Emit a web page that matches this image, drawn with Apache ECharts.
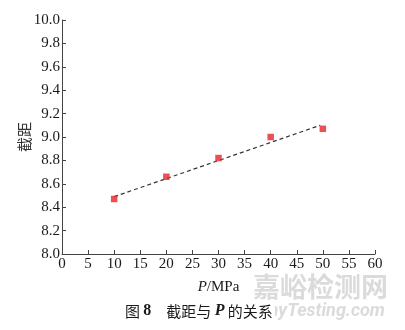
<!DOCTYPE html>
<html><head><meta charset="utf-8">
<script src="https://cdn.jsdelivr.net/npm/echarts@6/dist/echarts.min.js"></script>
<style>html,body{margin:0;padding:0;background:#fff}#c{width:405px;height:330px}</style>
</head><body><div id="c"></div>
<script>
var pressure = [10, 20, 30, 40, 50];
var intercept = [8.47, 8.66, 8.82, 9.00, 9.07];
var fitX = [10, 49.5];
var fitY = [8.49, 9.10];
var xTicks = {min: 0, max: 60, step: 5};
var yTicks = {min: 8.0, max: 10.0, step: 0.2};

var serif = '"Liberation Serif","Noto Sans CJK SC",serif';
var chart = echarts.init(document.getElementById('c'), null, {renderer: 'canvas'});
chart.setOption({
  animation: false,
  backgroundColor: '#fff',
  grid: {left: 62, right: 30, top: 20, bottom: 76, containLabel: false},
  xAxis: {
    type: 'value', min: xTicks.min, max: xTicks.max, interval: xTicks.step,
    axisLine: {show: true, lineStyle: {color: '#444', width: 1}},
    axisTick: {inside: true, length: 4, lineStyle: {color: '#444'}},
    splitLine: {show: false},
    axisLabel: {color: '#1a1a1a', fontFamily: serif, fontSize: 15, margin: 3},
    name: '{i|P}/MPa', nameLocation: 'middle', nameGap: 26, nameMoveOverlap: false,
    nameTextStyle: {color: '#1a1a1a', fontFamily: serif, fontSize: 15,
      rich: {i: {fontStyle: 'italic', fontFamily: serif, fontSize: 15, color: '#1a1a1a'}}}
  },
  yAxis: {
    type: 'value', min: yTicks.min, max: yTicks.max, interval: yTicks.step,
    axisLine: {show: true, lineStyle: {color: '#444', width: 1}},
    axisTick: {inside: true, length: 4, lineStyle: {color: '#444'}},
    splitLine: {show: false},
    axisLabel: {color: '#1a1a1a', fontFamily: serif, fontSize: 15, margin: 2,
      formatter: function (v) { return v.toFixed(1); }},
    name: '截距', nameLocation: 'middle', nameGap: 30, nameRotate: 90, nameMoveOverlap: false,
    nameTextStyle: {color: '#333', fontFamily: '"Noto Sans CJK SC"', fontSize: 15}
  },
  series: [
    {type: 'line', data: fitX.map(function (x, i) { return [x, fitY[i]]; }),
     showSymbol: false, symbol: 'none',
     lineStyle: {color: '#333', width: 1.2, type: [4, 3]}, z: 1},
    {type: 'scatter', data: pressure.map(function (x, i) { return [x, intercept[i]]; }),
     symbol: 'rect', symbolSize: 6.5, itemStyle: {color: '#e3262a'}, z: 2}
  ],
  graphic: [
    {type: 'text', left: 253, top: 273, z: 0,
     style: {text: '嘉峪检测网', fontFamily: '"Noto Sans CJK SC"', fontSize: 27, fontWeight: 'bold', fill: 'rgba(195,195,195,0.6)'}},
    {type: 'text', right: 20, top: 302, z: 0,
     style: {text: 'AnyTesting.com', fontFamily: 'Roboto, sans-serif', fontSize: 18, fontWeight: 'bold', fontStyle: 'italic', fill: 'rgba(195,195,195,0.6)'}},
    {type: 'text', left: 123, top: 302, z: 5,
     style: {text: '图 {b|8}　截距与 {bi|P} 的关系', fontFamily: '"Noto Sans CJK SC"', fontSize: 15, fill: '#1a1a1a',
       backgroundColor: '#fff', padding: [1, 2],
       rich: {b: {fontFamily: serif, fontWeight: 'bold', fontSize: 16, fill: '#1a1a1a'},
              bi: {fontFamily: serif, fontWeight: 'bold', fontStyle: 'italic', fontSize: 16, fill: '#1a1a1a'}}}}
  ]
});
</script></body></html>
